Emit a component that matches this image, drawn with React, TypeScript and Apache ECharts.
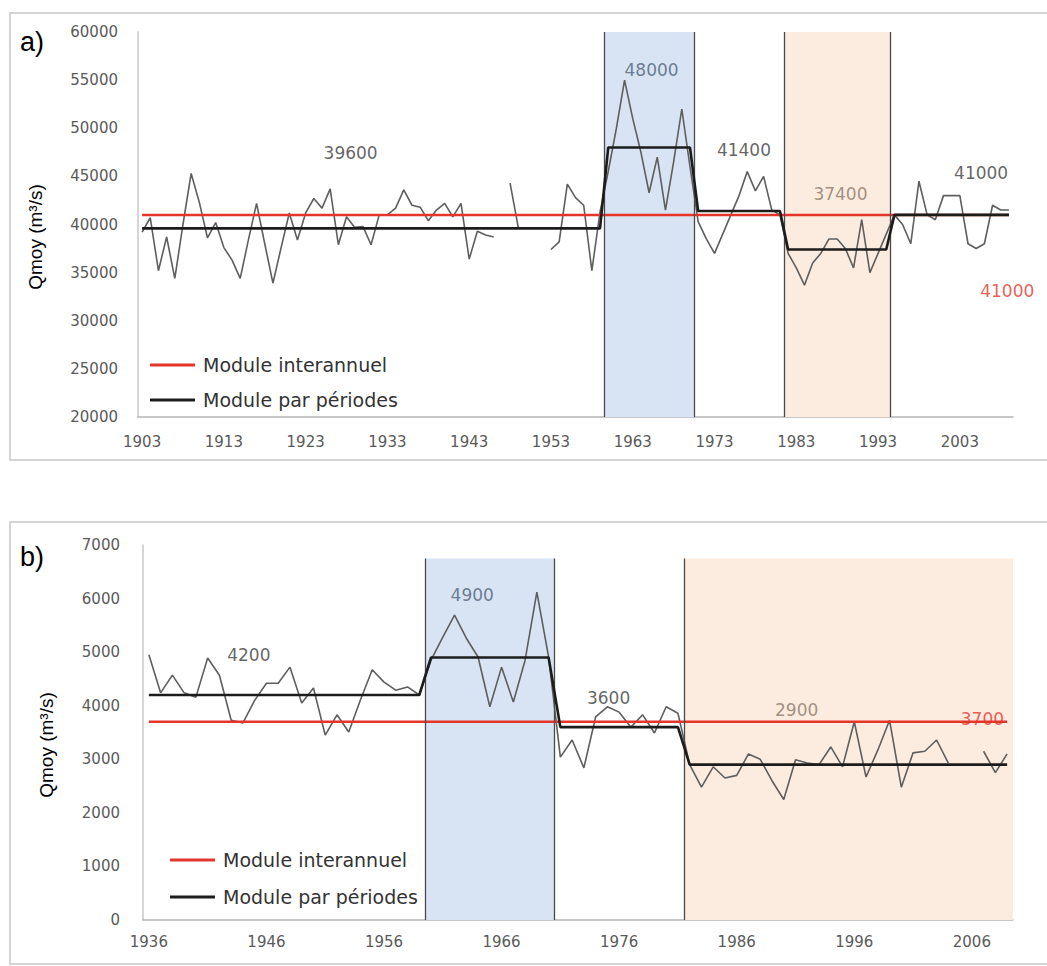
import React, { useEffect, useRef } from "react";
import * as echarts from "echarts";

// ---------- a) top chart data ----------
const topFirstYear = 1903;
const topFlow: (number | null)[] = [
  39200, 40700, 35200, 38700, 34400, 40000, 45300, 42300, 38600, 40200, // 1903-1912
  37600, 36300, 34400, 38400, 42200, 38000, 33900, 37600, 41200, 38400, // 1913-1922
  41200, 42700, 41700, 43700, 37900, 40800, 39700, 39800, 37900, 41000, // 1923-1932
  41000, 41700, 43600, 42000, 41800, 40400, 41500, 42200, 40800, 42200, // 1933-1942
  36400, 39300, 38900, 38700, null, 44300, 39700, null, null, null, // 1943-1952
  37400, 38200, 44200, 42800, 42000, 35200, 41300, 45500, 50000, 55000, // 1953-1962
  51000, 47500, 43300, 47000, 41500, 46500, 52000, 46000, 40300, 38500, // 1963-1972
  37000, 39000, 41000, 43000, 45500, 43500, 45000, 41500, 41000, 37000, // 1973-1982
  35500, 33700, 36000, 37000, 38500, 38500, 37500, 35500, 40500, 35000, // 1983-1992
  37000, 39000, 41000, 40000, 38000, 44500, 41000, 40500, 43000, 43000, // 1993-2002
  43000, 38000, 37500, 38000, 42000, 41500, 41500, // 2003-2009
];
const topPeriodStart = [1903, 1960, 1971, 1982, 1995];
const topPeriodEnd = [1959, 1970, 1981, 1994, 2009];
const topPeriodMean = [39600, 48000, 41400, 37400, 41000];
const topInterannual = 41000;
const topTickYears = [1903, 1913, 1923, 1933, 1943, 1953, 1963, 1973, 1983, 1993, 2003];
const topBlueBand = [1959.5, 1970.5];
const topOrangeBand = [1981.5, 1994.5];
const topEdgeLines = [1959.5, 1970.5, 1981.5, 1994.5];
const topLabelText = ["39600", "48000", "41400", "37400", "41000", "41000"];
const topLabelYear = [1928.5, 1965.3, 1976.6, 1988.4, 2005.6, 2008.8];
const topLabelValue = [47430, 56050, 47740, 43170, 45350, 33090];
const topLabelKind = ["dark", "blue", "dark", "brown", "dark", "red"];

// ---------- b) bottom chart data ----------
const botFirstYear = 1936;
const botFlow: (number | null)[] = [
  4950, 4240, 4570, 4240, 4160, 4890, 4570, 3730, 3680, 4100, // 1936-1945
  4420, 4420, 4720, 4050, 4330, 3450, 3830, 3510, 4110, 4670, // 1946-1955
  4440, 4290, 4350, 4200, 4850, 5280, 5690, 5260, 4910, 3980, // 1956-1965
  4720, 4070, 4850, 6120, 4910, 3040, 3360, 2840, 3790, 3980, // 1966-1975
  3880, 3600, 3830, 3490, 3980, 3860, 2900, 2480, 2860, 2650, // 1976-1985
  2700, 3100, 3000, 2600, 2250, 2990, 2930, 2900, 3230, 2860, // 1986-1995
  3700, 2670, 3170, 3730, 2480, 3120, 3150, 3360, 2930, null, // 1996-2005
  null, 3150, 2750, 3100, // 2006-2009
];
const botPeriodStart = [1936, 1960, 1971, 1982];
const botPeriodEnd = [1959, 1970, 1981, 2009];
const botPeriodMean = [4200, 4900, 3600, 2900];
const botInterannual = 3700;
const botTickYears = [1936, 1946, 1956, 1966, 1976, 1986, 1996, 2006];
const botBlueBand = [1959.5, 1970.5];
const botOrangeBand = [1981.5, 2009.5];
const botEdgeLines = [1959.5, 1970.5, 1981.5];
const botBandTop = 6750;
const botLabelText = ["4200", "4900", "3600", "2900", "3700"];
const botLabelYear = [1944.5, 1963.5, 1975.1, 1991.1, 2006.9];
const botLabelValue = [4947, 6067, 4144, 3920, 3752];
const botLabelKind = ["dark", "blue", "dark", "brown", "red"];

const NAME_INTER = "Module interannuel";
const NAME_PER = "Module par périodes";

const COL_RED = "#e4352b";
const COL_BLACK = "#1c1c1c";
const COL_FLOW = "#5e5e5e";
const COL_BLUE_BAND = "#d8e4f3";
const COL_ORANGE_BAND = "#fcece0";
const COL_EDGE = "#4a4a4a";
const LABEL_COLORS: Record<string, string> = {
  dark: "#3c3c3c",
  blue: "#4e5f78",
  brown: "#8a7866",
  red: "#e4352b",
};
const FONT = "DejaVu Sans";

function yearsFrom(first: number, n: number) {
  return Array.from({ length: n }, (_, i) => first + i);
}

function periodSeriesData(years: number[], starts: number[], ends: number[], means: number[]) {
  return years.map((y) => {
    const k = starts.findIndex((s, i) => y >= s && y <= ends[i]);
    return [y, k >= 0 ? means[k] : null];
  });
}

function buildChartSeries(
  idx: number,
  first: number,
  flow: (number | null)[],
  pStart: number[],
  pEnd: number[],
  pMean: number[],
  inter: number,
  blue: number[],
  orange: number[],
  edges: number[],
  yMin: number,
  bandTop: number,
  lText: string[],
  lYear: number[],
  lValue: number[],
  lKind: string[]
) {
  const years = yearsFrom(first, flow.length);
  const common = { xAxisIndex: idx, yAxisIndex: idx };
  return [
    {
      ...common,
      type: "line",
      name: "bands" + idx,
      data: [],
      silent: true,
      z: 1,
      markArea: {
        silent: true,
        data: [
          [
            { coord: [blue[0], yMin], itemStyle: { color: COL_BLUE_BAND } },
            { coord: [blue[1], bandTop] },
          ],
          [
            { coord: [orange[0], yMin], itemStyle: { color: COL_ORANGE_BAND } },
            { coord: [orange[1], bandTop] },
          ],
        ],
      },
      markLine: {
        silent: true,
        symbol: ["none", "none"],
        label: { show: false },
        lineStyle: { color: COL_EDGE, width: 1.3, type: "solid" },
        data: edges.map((e) => [{ coord: [e, yMin] }, { coord: [e, bandTop] }]),
      },
    },
    {
      ...common,
      type: "line",
      name: "Qmoy" + idx,
      data: years.map((y, i) => [y, flow[i]]),
      showSymbol: false,
      connectNulls: false,
      lineStyle: { color: COL_FLOW, width: 1.6 },
      itemStyle: { color: COL_FLOW },
      z: 3,
    },
    {
      ...common,
      type: "line",
      name: NAME_INTER,
      data: years.map((y) => [y, inter]),
      showSymbol: false,
      lineStyle: { color: COL_RED, width: 2.5 },
      itemStyle: { color: COL_RED },
      z: 4,
    },
    {
      ...common,
      type: "line",
      name: NAME_PER,
      data: periodSeriesData(years, pStart, pEnd, pMean),
      showSymbol: false,
      lineStyle: { color: COL_BLACK, width: 2.6 },
      itemStyle: { color: COL_BLACK },
      z: 5,
    },
    {
      ...common,
      type: "scatter",
      name: "labels" + idx,
      symbolSize: 0,
      silent: true,
      z: 6,
      data: lText.map((t, i) => ({
        value: [lYear[i], lValue[i]],
        label: {
          show: true,
          position: "inside",
          formatter: t,
          color: LABEL_COLORS[lKind[i]],
          fontFamily: FONT,
          fontSize: 17,
        },
      })),
    },
  ];
}

function axisPair(
  idx: number,
  xMin: number,
  xMax: number,
  ticks: number[],
  yMin: number,
  yMax: number,
  yInt: number,
  yMargin: number,
  xMargin: number
) {
  const x = {
    type: "value",
    gridIndex: idx,
    min: xMin,
    max: xMax,
    splitLine: { show: false },
    axisTick: { show: false },
    axisLine: { show: true, lineStyle: { color: "#b5b5b5", width: 1.5 } },
    axisLabel: {
      customValues: ticks,
      formatter: (v: number) => String(v),
      color: "#5a5a5a",
      fontFamily: FONT,
      fontSize: 15,
      margin: xMargin,
    },
  };
  const y = {
    type: "value",
    gridIndex: idx,
    min: yMin,
    max: yMax,
    interval: yInt,
    splitLine: { show: false },
    axisTick: { show: false },
    axisLine: { show: true, lineStyle: { color: "#c8c8c8", width: 1.5 } },
    axisLabel: {
      formatter: (v: number) => String(v),
      color: "#5a5a5a",
      fontFamily: FONT,
      fontSize: 15,
      margin: yMargin,
    },
  };
  return { x, y };
}

export default function App() {
  const ref = useRef<HTMLDivElement>(null);

  useEffect(() => {
    if (!ref.current) return;
    const chart = echarts.init(ref.current, undefined, { renderer: "svg" });

    const a0 = axisPair(0, 1902.5, 2009.5, topTickYears, 20000, 60000, 5000, 20, 17);
    const a1 = axisPair(1, 1935.5, 2009.5, botTickYears, 0, 7000, 1000, 23, 14);

    const legendBase = {
      orient: "vertical",
      data: [NAME_INTER, NAME_PER],
      icon: "rect",
      itemWidth: 45,
      itemHeight: 3,
      padding: 0,
      selectedMode: false,
      textStyle: {
        fontFamily: FONT,
        fontSize: 19,
        color: "#333333",
        lineHeight: 20,
        padding: [0, 0, 0, 3],
      },
    };

    const option = {
      animation: false,
      backgroundColor: "#ffffff",
      grid: [
        { left: 138, top: 32, width: 875, height: 385 },
        { left: 143, top: 545, width: 870, height: 375 },
      ],
      xAxis: [a0.x, a1.x],
      yAxis: [a0.y, a1.y],
      legend: [
        { ...legendBase, left: 150, top: 355, itemGap: 15 },
        { ...legendBase, left: 170, top: 850, itemGap: 17 },
      ],
      graphic: [
        {
          type: "rect",
          shape: { x: 10, y: 13, width: 1060, height: 447 },
          style: { fill: "none", stroke: "#d4d4d4", lineWidth: 2 },
          silent: true,
        },
        {
          type: "rect",
          shape: { x: 10, y: 522, width: 1060, height: 442 },
          style: { fill: "none", stroke: "#d4d4d4", lineWidth: 2 },
          silent: true,
        },
        {
          type: "text",
          x: 20,
          y: 42,
          style: {
            text: "a)",
            font: "27px 'Liberation Sans'",
            fill: "#000",
            textVerticalAlign: "middle",
          },
        },
        {
          type: "text",
          x: 20,
          y: 557,
          style: {
            text: "b)",
            font: "27px 'Liberation Sans'",
            fill: "#000",
            textVerticalAlign: "middle",
          },
        },
        {
          type: "text",
          x: 35,
          y: 237,
          rotation: Math.PI / 2,
          style: {
            text: "Qmoy (m³/s)",
            font: "19px 'Liberation Sans'",
            fill: "#000",
            textAlign: "center",
            textVerticalAlign: "middle",
          },
        },
        {
          type: "text",
          x: 46,
          y: 745,
          rotation: Math.PI / 2,
          style: {
            text: "Qmoy (m³/s)",
            font: "19px 'Liberation Sans'",
            fill: "#000",
            textAlign: "center",
            textVerticalAlign: "middle",
          },
        },
      ],
      series: [
        ...buildChartSeries(
          0, topFirstYear, topFlow, topPeriodStart, topPeriodEnd, topPeriodMean,
          topInterannual, topBlueBand, topOrangeBand, topEdgeLines, 20000, 60000,
          topLabelText, topLabelYear, topLabelValue, topLabelKind
        ),
        ...buildChartSeries(
          1, botFirstYear, botFlow, botPeriodStart, botPeriodEnd, botPeriodMean,
          botInterannual, botBlueBand, botOrangeBand, botEdgeLines, 0, botBandTop,
          botLabelText, botLabelYear, botLabelValue, botLabelKind
        ),
      ],
    };

    chart.setOption(option as any);
    return () => chart.dispose();
  }, []);

  return (
    <div
      ref={ref}
      style={{ position: "absolute", left: 0, top: 0, width: 1047, height: 966 }}
    />
  );
}
